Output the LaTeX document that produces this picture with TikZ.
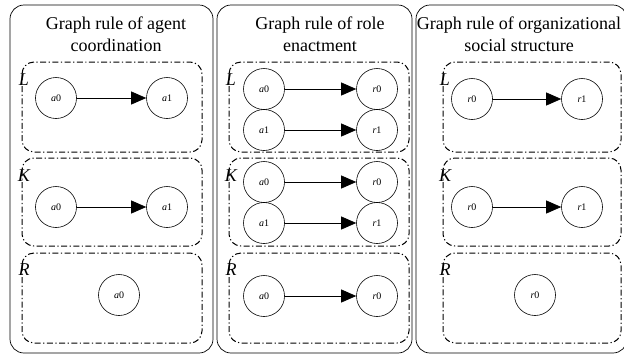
\documentclass[tikz,border=0pt]{standalone}
\usepackage{fontspec}
\setmainfont{Liberation Serif}
\usetikzlibrary{arrows.meta}

\begin{document}
\begin{tikzpicture}[x=1pt, y=-1pt,
    panel/.style={draw, rounded corners=14pt, line width=0.7pt},
    part/.style={draw, rounded corners=12pt, line width=1pt, dash pattern=on 6pt off 2.5pt on 1.2pt off 2.5pt},
    vert/.style={circle, draw, minimum size=41pt, inner sep=0pt, line width=0.6pt, font=\fontsize{10}{12}\selectfont},
    edge/.style={-{Triangle[length=15pt, width=13pt]}, line width=0.7pt},
    title/.style={align=center, font=\fontsize{18}{22}\selectfont},
    tag/.style={anchor=base, inner sep=0pt, font=\fontsize{18}{18}\selectfont\itshape}]
    \useasboundingbox (0,0) rectangle (624,354);
    \draw[panel] (10,5) rectangle (213,353);
    \draw[panel] (217,5) rectangle (412,353);
    \draw[panel] (416,5) rectangle (627,353);

    % agent coordination
    \node[title] (t1) at (116,34) {Graph rule of agent\\coordination};
    \draw[part] (22,62) rectangle (202,152);
    \draw[part] (22,158) rectangle (202,246);
    \draw[part] (22,253) rectangle (202,343);
    \node[tag] (l1) at (24,85) {L};
    \node[tag] (k1) at (24,181) {K};
    \node[tag] (r1) at (24,275) {R};
    \node[vert] (la0) at (56,98) {\textit{a}0};
    \node[vert] (la1) at (167,98) {\textit{a}1};
    \node[vert] (ka0) at (56,207) {\textit{a}0};
    \node[vert] (ka1) at (167,207) {\textit{a}1};
    \node[vert] (ra0) at (119,295) {\textit{a}0};
    \draw[edge] (la0) -- (la1);
    \draw[edge] (ka0) -- (ka1);

    % role enactment
    \node[title] (t2) at (320,34) {Graph rule of role\\enactment};
    \draw[part] (229,62) rectangle (409,152);
    \draw[part] (229,158) rectangle (409,246);
    \draw[part] (229,253) rectangle (409,343);
    \node[tag] (l2) at (231,85) {L};
    \node[tag] (k2) at (231,181) {K};
    \node[tag] (r2) at (231,275) {R};
    \node[vert] (la2) at (264,89) {\textit{a}0};
    \node[vert] (la3) at (264,130) {\textit{a}1};
    \node[vert] (lr0) at (377,89) {\textit{r}0};
    \node[vert] (lr1) at (377,130) {\textit{r}1};
    \node[vert] (ka2) at (264,182) {\textit{a}0};
    \node[vert] (ka3) at (264,223) {\textit{a}1};
    \node[vert] (kr0) at (377,182) {\textit{r}0};
    \node[vert] (kr1) at (377,223) {\textit{r}1};
    \node[vert] (ra2) at (264,296) {\textit{a}0};
    \node[vert] (rr0) at (377,296) {\textit{r}0};
    \draw[edge] (la2) -- (lr0);
    \draw[edge] (la3) -- (lr1);
    \draw[edge] (ka2) -- (kr0);
    \draw[edge] (ka3) -- (kr1);
    \draw[edge] (ra2) -- (rr0);

    % organizational social structure
    \node[title] (t3) at (519,34) {Graph rule of organizational\\social structure};
    \draw[part] (443,62) rectangle (621,152);
    \draw[part] (443,158) rectangle (621,246);
    \draw[part] (443,253) rectangle (621,343);
    \node[tag] (l3) at (445,85) {L};
    \node[tag] (k3) at (445,181) {K};
    \node[tag] (r3) at (445,275) {R};
    \node[vert] (lr2) at (472,99) {\textit{r}0};
    \node[vert] (lr3) at (582,99) {\textit{r}1};
    \node[vert] (kr2) at (472,207) {\textit{r}0};
    \node[vert] (kr3) at (582,207) {\textit{r}1};
    \node[vert] (rr2) at (535,295) {\textit{r}0};
    \draw[edge] (lr2) -- (lr3);
    \draw[edge] (kr2) -- (kr3);
\end{tikzpicture}
\end{document}
